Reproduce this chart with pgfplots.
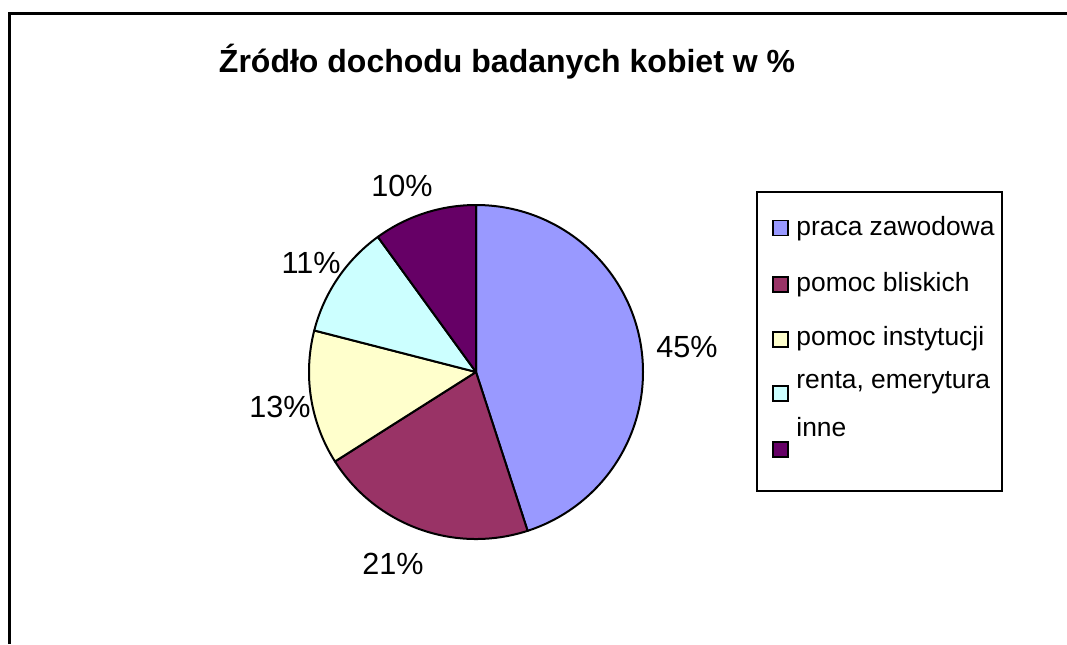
\documentclass[border=0pt]{standalone}
\usepackage{pgfplots}
\pgfplotsset{compat=1.18}
\usepackage{pgfplotstable}
\usepackage{fontspec}
\setmainfont{Liberation Sans}

\definecolor{c1}{HTML}{9999FF}
\definecolor{c2}{HTML}{993366}
\definecolor{c3}{HTML}{FFFFCC}
\definecolor{c4}{HTML}{CCFFFF}
\definecolor{c5}{HTML}{660066}

\newcommand\titlefont{\fontsize{16}{19}\selectfont\bfseries}
\newcommand\labelfont{\fontsize{15.3}{18}\selectfont}
\newcommand\legfont{\fontsize{13.2}{16}\selectfont}

% name; share in %; colour; label x,y (baseline); legend square y; legend text baseline
\pgfplotstableread[col sep=semicolon]{
name;value;col;lx;ly;sy;ty
praca zawodowa;45;c1;687;357;228;235
pomoc bliskich;21;c2;393;574;284.5;291.7
pomoc instytucji;13;c3;280;417;339.5;345.7
renta, emerytura;11;c4;311;273;393.5;388
inne;10;c5;402;196;449.5;436.7
}\piedata

\begin{document}
\begin{tikzpicture}
\begin{axis}[
    name=ax,
    width=533.5pt, height=322pt,
    scale only axis,
    xmin=0, xmax=1067, ymin=0, ymax=644,
    y dir=reverse,
    hide axis,
    clip=false,
]
% chart frame (cut off at right and bottom)
\draw[line width=1.5pt, line join=miter] (axis cs:9.5,644) -- (axis cs:9.5,13.5) -- (axis cs:1067,13.5);

\node[font=\titlefont, anchor=base] at (axis cs:507,72) {Źródło dochodu badanych kobiet w \%};

% pie, clockwise from 12 o'clock
\def\angA{90}
\pgfplotsforeachungrouped \i in {0,...,4}{
    \pgfplotstablegetelem{\i}{value}\of\piedata \let\v\pgfplotsretval
    \pgfplotstablegetelem{\i}{col}\of\piedata \let\col\pgfplotsretval
    \pgfplotstablegetelem{\i}{name}\of\piedata \let\nm\pgfplotsretval
    \pgfplotstablegetelem{\i}{lx}\of\piedata \let\lx\pgfplotsretval
    \pgfplotstablegetelem{\i}{ly}\of\piedata \let\ly\pgfplotsretval
    \pgfplotstablegetelem{\i}{sy}\of\piedata \let\sy\pgfplotsretval
    \pgfplotstablegetelem{\i}{ty}\of\piedata \let\ty\pgfplotsretval
    \pgfmathsetmacro\angB{\angA-3.6*\v}
    \edef\temp{%
        \noexpand\filldraw[fill=\col, draw=black, line width=1pt, line join=round]
            (axis cs:476,372) -- ++(\angA:83.5pt)
            arc[start angle=\angA, end angle=\angB, radius=83.5pt] -- cycle;
        \noexpand\node[font=\noexpand\labelfont, anchor=base] at (axis cs:\lx,\ly) {\v\noexpand\%};
        \noexpand\filldraw[fill=\col, draw=black, line width=0.75pt]
            (axis cs:773,\sy-7.5) rectangle (axis cs:788,\sy+7.5);
        \noexpand\node[font=\noexpand\legfont, anchor=base west, inner sep=0pt] at (axis cs:796,\ty) {\nm};
    }%
    \temp
    \let\angA\angB
}

% legend box
\draw[line width=0.75pt] (axis cs:757,192) rectangle (axis cs:1002,491);
\end{axis}
\pgfresetboundingbox
\useasboundingbox (ax.south west) rectangle (ax.north east);
\end{tikzpicture}
\end{document}
